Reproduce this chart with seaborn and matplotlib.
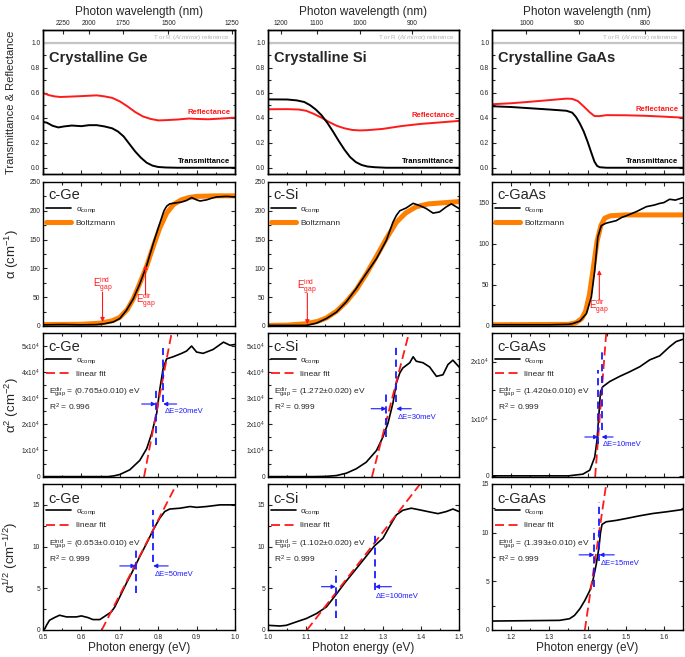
import numpy as np
import matplotlib
matplotlib.use('Agg')
import matplotlib.pyplot as plt
import seaborn as sns
from matplotlib.ticker import MultipleLocator, AutoMinorLocator, FuncFormatter

# ---------------- data ----------------
# row 1: transmittance / reflectance vs photon energy
ge_t_e = [0.50, 0.51, 0.525, 0.54, 0.555, 0.575, 0.60, 0.62, 0.64, 0.66, 0.68, 0.695, 0.71, 0.725, 0.74, 0.755, 0.77, 0.785, 0.80, 0.82, 0.85, 1.00]
ge_trans = [0.366, 0.36, 0.335, 0.322, 0.33, 0.337, 0.332, 0.34, 0.34, 0.33, 0.315, 0.29, 0.25, 0.19, 0.13, 0.08, 0.04, 0.017, 0.006, 0.002, 0.0, 0.0]
ge_r_e = [0.50, 0.515, 0.53, 0.545, 0.57, 0.60, 0.62, 0.64, 0.66, 0.68, 0.70, 0.72, 0.74, 0.76, 0.78, 0.80, 0.82, 0.85, 0.88, 0.90, 0.93, 0.96, 1.00]
ge_refl = [0.597, 0.58, 0.57, 0.565, 0.568, 0.572, 0.575, 0.578, 0.57, 0.558, 0.53, 0.49, 0.445, 0.41, 0.39, 0.378, 0.38, 0.385, 0.393, 0.39, 0.387, 0.392, 0.40]

si_t_e = [1.0, 1.05, 1.075, 1.095, 1.11, 1.125, 1.14, 1.155, 1.17, 1.185, 1.20, 1.215, 1.23, 1.245, 1.26, 1.28, 1.31, 1.5]
si_trans = [0.546, 0.545, 0.538, 0.525, 0.5, 0.465, 0.42, 0.36, 0.29, 0.215, 0.145, 0.085, 0.045, 0.022, 0.01, 0.004, 0.0, 0.0]
si_r_e = [1.0, 1.05, 1.08, 1.10, 1.12, 1.14, 1.16, 1.18, 1.20, 1.22, 1.24, 1.26, 1.30, 1.35, 1.40, 1.45, 1.50]
si_refl = [0.467, 0.468, 0.465, 0.455, 0.43, 0.40, 0.365, 0.335, 0.315, 0.302, 0.298, 0.30, 0.31, 0.333, 0.35, 0.362, 0.374]

gaas_t_e = [1.15, 1.20, 1.25, 1.30, 1.345, 1.36, 1.37, 1.38, 1.39, 1.40, 1.41, 1.418, 1.425, 1.432, 1.45, 1.65]
gaas_trans = [0.491, 0.485, 0.475, 0.465, 0.455, 0.44, 0.405, 0.353, 0.29, 0.21, 0.12, 0.05, 0.015, 0.004, 0.0, 0.0]
gaas_r_e = [1.15, 1.20, 1.25, 1.30, 1.345, 1.36, 1.375, 1.39, 1.405, 1.418, 1.43, 1.45, 1.50, 1.55, 1.60, 1.65]
gaas_refl = [0.507, 0.515, 0.527, 0.54, 0.552, 0.55, 0.532, 0.49, 0.445, 0.413, 0.412, 0.42, 0.419, 0.415, 0.408, 0.40]

# row 2: absorption coefficient and Boltzmann fit
ge_a_e = [0.50, 0.55, 0.60, 0.64, 0.66, 0.683, 0.70, 0.717, 0.735, 0.752, 0.77, 0.787, 0.804, 0.815, 0.822, 0.83, 0.848, 0.86, 0.874, 0.887, 0.90, 0.909, 0.926, 0.94, 0.952, 0.978, 1.00]
ge_alpha = [2, 2.5, 2, 2.5, 4, 7, 13, 27, 47, 73, 105, 143, 178, 200, 208, 212, 214, 215, 218, 223, 219, 217, 219, 222, 224, 225, 224]
ge_b_e = [0.50, 0.60, 0.65, 0.68, 0.70, 0.72, 0.735, 0.752, 0.77, 0.787, 0.804, 0.822, 0.84, 0.86, 0.88, 0.90, 0.95, 1.00]
ge_boltz = [2.5, 3, 5, 9, 15, 29, 47, 74, 104, 138, 170, 196, 211, 219, 223, 225, 226, 226]

si_a_e = [1.0, 1.10, 1.127, 1.153, 1.179, 1.205, 1.231, 1.257, 1.284, 1.31, 1.327, 1.336, 1.345, 1.362, 1.38, 1.397, 1.414, 1.432, 1.449, 1.467, 1.48, 1.50]
si_alpha = [1, 1, 5, 13, 24, 42, 65, 91, 117, 149, 180, 192, 200, 205, 213, 209, 204, 196, 198, 207, 212, 204]
si_b_e = [1.0, 1.05, 1.10, 1.13, 1.153, 1.18, 1.205, 1.231, 1.257, 1.284, 1.31, 1.336, 1.36, 1.388, 1.42, 1.46, 1.50]
si_boltz = [1, 1.5, 4, 8, 14, 26, 42, 63, 90, 121, 152, 180, 196, 207, 212, 214, 216]

gaas_a_e = [1.15, 1.30, 1.35, 1.362, 1.38, 1.397, 1.41, 1.419, 1.427, 1.436, 1.449, 1.475, 1.49, 1.502, 1.528, 1.554, 1.575, 1.589, 1.60, 1.615, 1.63, 1.65]
gaas_alpha = [1.5, 1.5, 2, 3, 6, 15, 35, 68, 108, 122, 125, 128, 132, 134, 139, 145, 147, 149, 150, 154, 153, 156]
gaas_b_e = [1.15, 1.35, 1.37, 1.385, 1.395, 1.405, 1.415, 1.425, 1.435, 1.445, 1.46, 1.50, 1.65]
gaas_boltz = [1.5, 2, 4, 9, 18, 38, 70, 103, 122, 131, 134, 135, 135]

# row 3: alpha^2 (direct gap)
ge_a2_e = [0.50, 0.67, 0.685, 0.70, 0.726, 0.752, 0.77, 0.783, 0.796, 0.804, 0.813, 0.822, 0.839, 0.861, 0.874, 0.887, 0.90, 0.917, 0.943, 0.97, 0.987, 1.00]
ge_alpha2 = [0, 0, 300, 800, 2600, 6200, 10700, 16500, 24200, 33200, 41600, 45100, 45900, 47200, 48100, 50000, 47700, 47200, 48700, 51500, 50300, 50600]
si_a2_e = [1.0, 1.12, 1.153, 1.179, 1.205, 1.231, 1.257, 1.284, 1.301, 1.314, 1.327, 1.336, 1.345, 1.353, 1.371, 1.38, 1.388, 1.406, 1.423, 1.441, 1.458, 1.471, 1.484, 1.50]
si_alpha2 = [0, 0, 100, 400, 1300, 3000, 5500, 10000, 15200, 20400, 28100, 35800, 39700, 41600, 43600, 45900, 44200, 43600, 42000, 38400, 39000, 42900, 44600, 42000]
gaas_a2_e = [1.15, 1.35, 1.388, 1.406, 1.419, 1.425, 1.43, 1.434, 1.44, 1.458, 1.484, 1.51, 1.537, 1.563, 1.589, 1.615, 1.632, 1.65]
gaas_alpha2 = [0, 0, 300, 1000, 3300, 6300, 10900, 14700, 15600, 16500, 17400, 18200, 19100, 20300, 21000, 22600, 23500, 23900]

# row 4: alpha^1/2 (indirect gap)
ge_ah_e = [0.50, 0.505, 0.509, 0.517, 0.53, 0.543, 0.561, 0.587, 0.60, 0.617, 0.63, 0.648, 0.665, 0.678, 0.687, 0.70, 0.717, 0.735, 0.752, 0.77, 0.787, 0.804, 0.817, 0.83, 0.857, 0.883, 0.90, 0.926, 0.961, 1.00]
ge_alphah = [0.0, 0.16, 0.56, 1.17, 1.49, 1.77, 1.57, 1.57, 1.69, 1.49, 1.25, 1.25, 1.77, 2.17, 2.77, 3.98, 5.59, 7.2, 8.8, 10.4, 12.0, 13.4, 14.2, 14.5, 14.6, 14.8, 14.7, 14.8, 15.0, 15.0]
si_ah_e = [1.0, 1.031, 1.048, 1.074, 1.10, 1.127, 1.153, 1.177, 1.20, 1.227, 1.253, 1.279, 1.301, 1.318, 1.336, 1.353, 1.375, 1.397, 1.423, 1.445, 1.467, 1.484, 1.50]
si_alphah = [0.56, 0.48, 0.56, 0.97, 1.37, 1.97, 2.77, 4.18, 5.59, 7.12, 8.6, 10.1, 11.0, 12.4, 13.8, 14.35, 14.6, 14.4, 14.15, 13.95, 14.2, 14.5, 14.2]
gaas_ah_e = [1.15, 1.327, 1.353, 1.366, 1.38, 1.393, 1.406, 1.414, 1.423, 1.43, 1.434, 1.438, 1.449, 1.475, 1.502, 1.536, 1.571, 1.606, 1.65]
gaas_alphah = [0.92, 0.99, 1.16, 1.5, 2.18, 3.03, 4.05, 5.07, 6.77, 8.47, 10.0, 10.85, 11.12, 11.26, 11.46, 11.73, 11.97, 12.14, 12.38]

# linear fits (end points) and gap-uncertainty markers
ge_fit2_e, ge_fit2 = [0.763, 0.835], [-150, 55000]
si_fit2_e, si_fit2 = [1.272, 1.369], [-150, 55000]
gaas_fit2_e, gaas_fit2 = [1.420, 1.449], [-200, 25000]
ge_fith_e, ge_fith = [0.653, 0.848], [0, 17.5]
si_fith_e, si_fith = [1.102, 1.400], [0, 17.6]
gaas_fith_e, gaas_fith = [1.393, 1.449], [0, 15]

# energy, ymin, ymax of the two blue markers, arrow height, arrow tails, label height
ge_de2 = dict(e=[0.794, 0.813], lo=[12000, 28700], hi=[34500, 49400], y=27800, tails=[0.757, 0.848], ty=24900, txt='ΔE=20meV')
si_de2 = dict(e=[1.310, 1.336], lo=[15000, 28700], hi=[33000, 50000], y=26000, tails=[1.270, 1.375], ty=22700, txt='ΔE=30meV')
gaas_de2 = dict(e=[1.428, 1.437], lo=[5500, 8000], hi=[18500, 22000], y=6800, tails=[1.393, 1.467], ty=5400, txt='ΔE=10meV')
ge_deh = dict(e=[0.741, 0.787], lo=[4.4, 8.2], hi=[9.8, 14.4], y=7.68, tails=[0.700, 0.826], ty=6.7, txt='ΔE=50meV')
si_deh = dict(e=[1.177, 1.280], lo=[1.4, 4.8], hi=[7.2, 11.8], y=5.19, tails=[1.140, 1.323], ty=3.98, txt='ΔE=100meV')
gaas_deh = dict(e=[1.418, 1.431], lo=[4.4, 7.1], hi=[10.5, 13.2], y=7.72, tails=[1.378, 1.470], ty=6.84, txt='ΔE=15meV')

ge_wl = [2250, 2000, 1750, 1500, 1250]
si_wl = [1200, 1100, 1000, 900]
gaas_wl = [1000, 900, 800]

# ---------------- style ----------------
sns.set_style('ticks')
plt.rcParams['font.family'] = ['Liberation Sans', 'DejaVu Sans']
plt.rcParams['mathtext.fontset'] = 'custom'
plt.rcParams['mathtext.rm'] = 'Liberation Sans'
plt.rcParams['mathtext.it'] = 'Liberation Sans:italic'
plt.rcParams['mathtext.bf'] = 'Liberation Sans:bold'
plt.rcParams['mathtext.default'] = 'regular'
plt.rcParams['axes.linewidth'] = 1.0
plt.rcParams['axes.edgecolor'] = 'black'

RED = '#ff1a1a'
ORANGE = '#ff8000'
BLUE = '#1a1aff'
TICK_FS = 4.8
LAB_FS = 8.5

mats = [
    dict(name='Ge', xlim=(0.5, 1.0), wl=ge_wl, t=(ge_t_e, ge_trans), r=(ge_r_e, ge_refl), rlab_y=0.445,
         a=(ge_a_e, ge_alpha), b=(ge_b_e, ge_boltz), ylim2=(0, 250), yt2=50,
         a2=(ge_a2_e, ge_alpha2), f2=(ge_fit2_e, ge_fit2), ylim3=(-150, 55000), d2=ge_de2, g2='0.765±0.010', r2='0.996',
         ah=(ge_ah_e, ge_alphah), fh=(ge_fith_e, ge_fith), ylim4=(0, 17.5), dh=ge_deh, gh='0.653±0.010', rh='0.999',
         arrows=[('ind', 0.655, 59, 7, 70), ('dir', 0.767, 54, 106, 43)]),
    dict(name='Si', xlim=(1.0, 1.5), wl=si_wl, t=(si_t_e, si_trans), r=(si_r_e, si_refl), rlab_y=0.42,
         a=(si_a_e, si_alpha), b=(si_b_e, si_boltz), ylim2=(0, 250), yt2=50,
         a2=(si_a2_e, si_alpha2), f2=(si_fit2_e, si_fit2), ylim3=(-150, 55000), d2=si_de2, g2='1.272±0.020', r2='0.999',
         ah=(si_ah_e, si_alphah), fh=(si_fith_e, si_fith), ylim4=(0, 17.5), dh=si_deh, gh='1.102±0.020', rh='0.999',
         arrows=[('ind', 1.103, 57, 3, 68)]),
    dict(name='GaAs', xlim=(1.15, 1.65), wl=gaas_wl, t=(gaas_t_e, gaas_trans), r=(gaas_r_e, gaas_refl), rlab_y=0.467,
         a=(gaas_a_e, gaas_alpha), b=(gaas_b_e, gaas_boltz), ylim2=(0, 175), yt2=50,
         a2=(gaas_a2_e, gaas_alpha2), f2=(gaas_fit2_e, gaas_fit2), ylim3=(-200, 25000), d2=gaas_de2, g2='1.420±0.010', r2='0.999',
         ah=(gaas_ah_e, gaas_alphah), fh=(gaas_fith_e, gaas_fith), ylim4=(0, 15), dh=gaas_deh, gh='1.393±0.010', rh='0.999',
         arrows=[('dir', 1.431, 31.6, 68, 23)]),
]

W, H = 685, 657
fig = plt.figure(figsize=(W / 100, H / 100), dpi=100)
col_x = [43, 268, 492]
col_w = [192, 191, 191]
row_y = [30, 182, 333, 484]
row_h = [144, 144, 144, 146]


def add_ax(r, c):
    return fig.add_axes([col_x[c] / W, 1 - (row_y[r] + row_h[r]) / H, col_w[c] / W, row_h[r] / H])


def line(ax, x, y, **kw):
    sns.lineplot(x=x, y=y, ax=ax, estimator=None, errorbar=None, sort=False, **kw)


def style_ax(ax, top=True, labelbottom=False):
    ax.tick_params(which='both', direction='in', top=top, right=True, labelsize=TICK_FS,
                   pad=2, labelbottom=labelbottom, width=0.8)
    ax.tick_params(axis='x', pad=3)
    ax.tick_params(which='major', length=3)
    ax.tick_params(which='minor', length=1.8)
    ax.xaxis.set_major_locator(MultipleLocator(0.1))
    ax.xaxis.set_minor_locator(MultipleLocator(0.05))
    ax.yaxis.set_minor_locator(AutoMinorLocator(2))
    ax.set_xlabel('')
    ax.set_ylabel('')


def legend_block(ax, handles, labels):
    ax.legend(handles, labels, loc='upper left', bbox_to_anchor=(0.0, 0.865), borderaxespad=0,
              frameon=False, fontsize=6, handlelength=2.9, handletextpad=0.6, labelspacing=0.55)


def gap_text(ax, gap_kind, gap_val, r2):
    ax.text(0.03, 0.59, r'$E_{gap}^{%s}$ = (%s) eV' % (gap_kind, gap_val), transform=ax.transAxes,
            fontsize=6, va='center', ha='left')
    ax.text(0.03, 0.485, r'R$^2$ = %s' % r2, transform=ax.transAxes, fontsize=6, va='center', ha='left')


def delta_markers(ax, d):
    for e, lo, hi in zip(d['e'], d['lo'], d['hi']):
        line(ax, [e, e], [lo, hi], color=BLUE, lw=1.3, linestyle=(0, (4, 2.5)))
    for tail, tip in zip(d['tails'], d['e']):
        ax.annotate('', xy=(tip, d['y']), xytext=(tail, d['y']),
                    arrowprops=dict(arrowstyle='-|>', color=BLUE, lw=0.8, mutation_scale=6,
                                    shrinkA=0, shrinkB=0))
    ax.text(d['e'][1] + 0.003, d['ty'], d['txt'], color=BLUE, fontsize=5.5, va='center', ha='left')


for c, m in enumerate(mats):
    # ---------- row 1: T & R ----------
    ax = add_ax(0, c)
    ax.axhline(1.0, color='#c4c4c4', lw=1.6)
    line(ax, m['r'][0], m['r'][1], color=RED, lw=1.4)
    line(ax, m['t'][0], m['t'][1], color='black', lw=1.4)
    ax.set_xlim(m['xlim'])
    ax.set_ylim(-0.05, 1.1)
    style_ax(ax, top=False)
    ax.yaxis.set_major_locator(MultipleLocator(0.2))
    ax.yaxis.set_major_formatter(FuncFormatter(lambda v, p: '%.1f' % v))
    ax.text(0.03, 0.805, 'Crystalline ' + m['name'], transform=ax.transAxes, fontsize=10.5,
            fontweight='bold', va='center', ha='left')
    ax.text(0.975, m['rlab_y'], 'Reflectance', color=RED, fontsize=5.5, fontweight='bold',
            ha='right', va='center', transform=ax.get_yaxis_transform())
    ax.text(0.975, 0.048, 'Transmittance', color='black', fontsize=5.5, fontweight='bold',
            ha='right', va='center', transform=ax.get_yaxis_transform())
    ax.text(0.975, 1.04, r'T or R ($\mathit{Al\ mirror}$) reference', color='#b4b4b4', fontsize=4.5,
            ha='right', va='center', transform=ax.get_yaxis_transform())
    if c == 0:
        ax.set_ylabel('Transmittance & Reflectance', fontsize=8)
    top = ax.twiny()
    top.set_xlim(m['xlim'])
    wl = np.array(m['wl'], dtype=float)
    top.set_xticks(1239.84 / wl)
    top.set_xticklabels([str(int(w)) for w in wl])
    top.tick_params(direction='in', length=3, labelsize=TICK_FS, pad=2, width=0.8)
    top.set_xlabel('Photon wavelength (nm)', fontsize=LAB_FS, labelpad=4)

    # ---------- row 2: alpha ----------
    ax = add_ax(1, c)
    line(ax, m['b'][0], m['b'][1], color=ORANGE, lw=3.6)
    line(ax, m['a'][0], m['a'][1], color='black', lw=1.2)
    ax.set_xlim(m['xlim'])
    ax.set_ylim(m['ylim2'])
    style_ax(ax)
    ax.yaxis.set_major_locator(MultipleLocator(m['yt2']))
    ax.text(0.03, 0.91, 'c-' + m['name'], transform=ax.transAxes, fontsize=10.5, va='center', ha='left')
    legend_block(ax, [ax.lines[1], ax.lines[0]], [r'$\alpha_{comp}$', 'Boltzmann'])
    for kind, xe, y0, y1, ty in m['arrows']:
        ax.annotate('', xy=(xe, y1), xytext=(xe, y0),
                    arrowprops=dict(arrowstyle='-|>', color=RED, lw=0.8, mutation_scale=6,
                                    shrinkA=0, shrinkB=0))
        ax.text(xe, ty, r'$E_{gap}^{%s}$' % kind, color=RED, fontsize=7, ha='center', va='center')
    if c == 0:
        ax.set_ylabel(r'$\alpha$ (cm$^{-1}$)', fontsize=LAB_FS + 1)

    # ---------- row 3: alpha^2 ----------
    ax = add_ax(2, c)
    line(ax, m['a2'][0], m['a2'][1], color='black', lw=1.2)
    line(ax, m['f2'][0], m['f2'][1], color=RED, lw=1.3, linestyle=(0, (5, 2.5)))
    ax.set_xlim(m['xlim'])
    ax.set_ylim(m['ylim3'])
    style_ax(ax)
    ax.yaxis.set_major_locator(MultipleLocator(10000))
    ax.yaxis.set_major_formatter(FuncFormatter(
        lambda v, p: '0' if abs(v) < 1 else r'%dx10$^4$' % round(v / 1e4)))
    legend_block(ax, [ax.lines[0], ax.lines[1]], [r'$\alpha_{comp}$', 'linear fit'])
    delta_markers(ax, m['d2'])
    ax.text(0.03, 0.90, 'c-' + m['name'], transform=ax.transAxes, fontsize=10.5, va='center', ha='left')
    gap_text(ax, 'dir', m['g2'], m['r2'])
    if c == 0:
        ax.set_ylabel(r'$\alpha^2$ (cm$^{-2}$)', fontsize=LAB_FS + 1)

    # ---------- row 4: alpha^1/2 ----------
    ax = add_ax(3, c)
    line(ax, m['ah'][0], m['ah'][1], color='black', lw=1.2)
    line(ax, m['fh'][0], m['fh'][1], color=RED, lw=1.3, linestyle=(0, (5, 2.5)))
    ax.set_xlim(m['xlim'])
    ax.set_ylim(m['ylim4'])
    style_ax(ax, labelbottom=True)
    ax.yaxis.set_major_locator(MultipleLocator(5))
    legend_block(ax, [ax.lines[0], ax.lines[1]], [r'$\alpha_{comp}$', 'linear fit'])
    delta_markers(ax, m['dh'])
    ax.text(0.03, 0.90, 'c-' + m['name'], transform=ax.transAxes, fontsize=10.5, va='center', ha='left')
    gap_text(ax, 'ind', m['gh'], m['rh'])
    ax.set_xlabel('Photon energy (eV)', fontsize=LAB_FS, labelpad=0.5)
    if c == 0:
        ax.set_ylabel(r'$\alpha^{1/2}$ (cm$^{-1/2}$)', fontsize=LAB_FS + 1)

for i, ax in enumerate(fig.axes):
    if ax.get_ylabel():
        ax.yaxis.set_label_coords(-0.14 if ax.get_ylabel().startswith('T') else -0.115, 0.5)

fig.savefig('out.png', dpi=100)
